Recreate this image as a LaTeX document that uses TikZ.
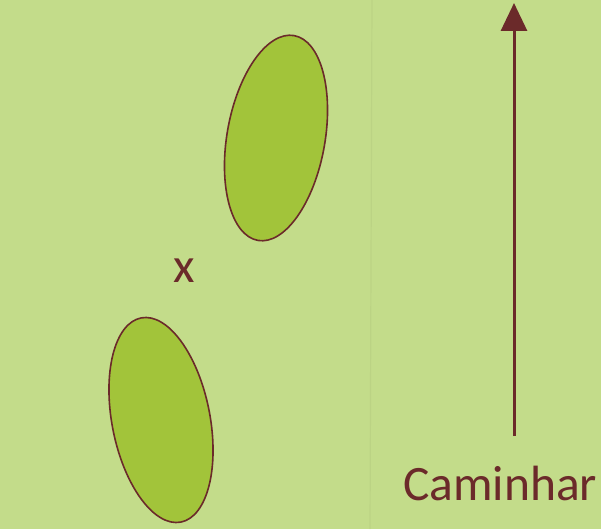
\documentclass[tikz,border=0pt]{standalone}
\usepackage{fontspec}
\setmainfont{Carlito}
\usetikzlibrary{shapes.geometric,arrows.meta}
\definecolor{bgc}{HTML}{C3DC8A}
\definecolor{leaf}{HTML}{A2C43A}
\definecolor{dark}{HTML}{6B2A2A}
\tikzset{
  pod/.style={ellipse, draw=dark, line width=1.6pt, fill=leaf, inner sep=0pt, minimum width=98pt, minimum height=208pt},
  lbl/.style={text=dark, font=\fontsize{49.5}{52}\selectfont, inner sep=0pt},
  walk/.style={draw=dark, line width=3pt, -{Triangle[length=28pt,width=26pt]}}
}
\begin{document}
\begin{tikzpicture}[x=1pt,y=-1pt]
\fill[bgc] (0,0) rectangle (601,529);
\useasboundingbox (0,0) rectangle (601,529);
\draw[bgc!85!black, opacity=0.25, line width=1.2pt] (372,0) -- (370,529);
\node[pod, rotate=-10] (up) at (276,138) {};
\node[pod, rotate=11] (low) at (161,420) {};
\node[lbl, anchor=base] (x) at (184,282) {x};
\coordinate (s) at (514,436);
\coordinate (e) at (514,3);
\draw[walk] (s) -- (e);
\node[lbl, anchor=base west] (cam) at (403,500) {Caminhar};
\end{tikzpicture}
\end{document}
